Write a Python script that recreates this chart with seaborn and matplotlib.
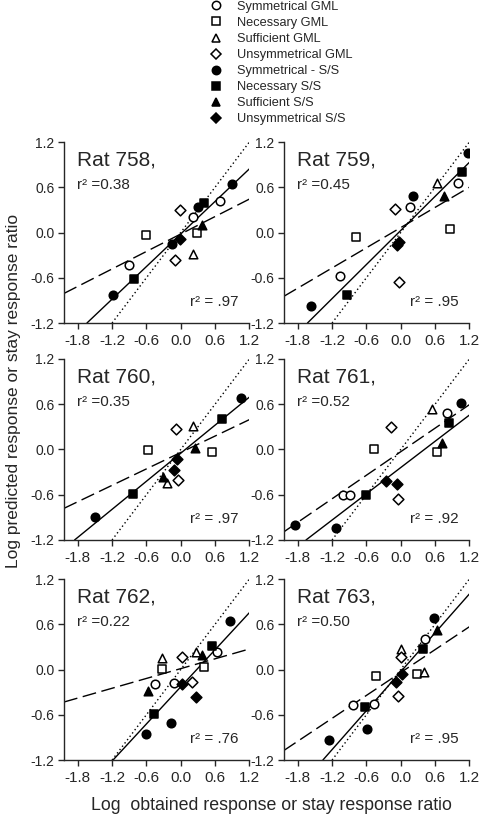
import numpy as np
import pandas as pd
import matplotlib
matplotlib.use("Agg")
import matplotlib.pyplot as plt
from matplotlib.lines import Line2D
import seaborn as sns

# Conditions (legend order)
conditions = ["Symmetrical GML", "Necessary GML", "Sufficient GML", "Unsymmetrical GML",
              "Symmetrical - S/S", "Necessary S/S", "Sufficient S/S", "Unsymmetrical S/S"]
cond_markers = ["o", "s", "^", "D", "o", "s", "^", "D"]
cond_fill = ["white"] * 4 + ["black"] * 4

rats = ["758", "759", "760", "761", "762", "763"]
r2_gml = ["0.38", "0.45", "0.35", "0.52", "0.22", "0.50"]
r2_ss = [".97", ".95", ".97", ".92", ".76", ".95"]

# regression lines: solid = S/S, dashed = GML
ss_slope = [0.72, 0.753, 0.62, 0.58, 0.82, 0.86]
ss_icpt = [-0.02, 0.027, -0.05, -0.24, -0.23, -0.03]
gml_slope = [0.386, 0.446, 0.363, 0.52, 0.217, 0.506]
gml_icpt = [-0.02, 0.065, -0.04, -0.03, 0.012, -0.04]

# points per rat: condition index, obtained (x), predicted (y)
rat758_cond = [0, 0, 0, 1, 1, 2, 3, 3, 4, 4, 4, 4, 5, 5, 6, 7]
rat758_x = [-0.90, 0.22, 0.69, -0.61, 0.28, 0.22, -0.01, -0.10, -1.19, -0.16, 0.31, 0.89, -0.82, 0.41, 0.37, -0.01]
rat758_y = [-0.43, 0.21, 0.42, -0.03, 0.00, -0.29, 0.30, -0.36, -0.83, -0.15, 0.34, 0.64, -0.61, 0.39, 0.10, -0.09]

rat759_cond = [0, 0, 0, 1, 1, 2, 3, 3, 4, 4, 4, 5, 5, 6, 7, 7]
rat759_x = [-1.06, 0.17, 1.00, -0.78, 0.87, 0.63, -0.10, -0.03, -1.56, 0.22, 1.17, -0.94, 1.07, 0.76, -0.07, -0.03]
rat759_y = [-0.57, 0.34, 0.66, -0.06, 0.04, 0.66, 0.31, -0.65, -0.97, 0.48, 1.05, -0.83, 0.80, 0.48, -0.16, -0.12]

rat760_cond = [1, 1, 2, 2, 3, 3, 4, 4, 5, 5, 6, 6, 7, 7]
rat760_x = [-0.58, 0.54, 0.21, -0.24, -0.08, -0.04, 1.05, -1.50, -0.84, 0.72, 0.25, -0.31, -0.07, -0.11]
rat760_y = [-0.01, -0.04, 0.31, -0.44, 0.27, -0.40, 0.68, -0.89, -0.59, 0.40, 0.02, -0.36, -0.13, -0.27]

rat761_cond = [0, 0, 0, 1, 1, 2, 3, 3, 4, 4, 4, 5, 5, 6, 7, 7]
rat761_x = [-1.01, -0.88, 0.81, -0.47, 0.63, 0.54, -0.17, -0.05, 1.06, -1.84, -1.13, -0.60, 0.85, 0.73, -0.25, -0.06]
rat761_y = [-0.61, -0.61, 0.49, 0.00, -0.04, 0.54, 0.30, -0.66, 0.62, -1.00, -1.04, -0.61, 0.35, 0.09, -0.42, -0.46]

rat762_cond = [0, 0, 0, 1, 1, 2, 2, 3, 3, 4, 4, 4, 5, 5, 6, 6, 7, 7]
rat762_x = [-0.45, -0.12, 0.63, -0.33, 0.41, -0.33, 0.27, 0.02, 0.20, 0.87, -0.61, -0.17, 0.55, -0.47, -0.58, 0.37, 0.03, 0.27]
rat762_y = [-0.19, -0.18, 0.23, 0.01, 0.03, 0.15, 0.23, 0.17, -0.17, 0.65, -0.85, -0.71, 0.31, -0.59, -0.28, 0.19, -0.19, -0.36]

rat763_cond = [0, 0, 0, 1, 1, 2, 2, 3, 3, 4, 4, 4, 5, 5, 6, 7, 7]
rat763_x = [-0.83, -0.47, 0.43, -0.44, 0.28, 0.01, 0.41, 0.01, -0.05, 0.59, -1.26, -0.59, 0.39, -0.62, 0.63, -0.08, 0.02]
rat763_y = [-0.47, -0.46, 0.41, -0.08, -0.06, 0.27, -0.03, 0.16, -0.35, 0.68, -0.94, -0.79, 0.27, -0.50, 0.53, -0.16, -0.06]

rat_points = [
    (rat758_cond, rat758_x, rat758_y),
    (rat759_cond, rat759_x, rat759_y),
    (rat760_cond, rat760_x, rat760_y),
    (rat761_cond, rat761_x, rat761_y),
    (rat762_cond, rat762_x, rat762_y),
    (rat763_cond, rat763_x, rat763_y),
]

ticks = [-1.8, -1.2, -0.6, 0.0, 0.6, 1.2]
yticks = [-1.2, -0.6, 0.0, 0.6, 1.2]

sns.set_style("ticks")
plt.rcParams["font.family"] = ["Liberation Sans", "DejaVu Sans"]

fig = plt.figure(figsize=(4.79, 8.19), dpi=100)

lefts = [0.1336, 0.5929]
bottoms = [0.6056, 0.3407, 0.072]
w, h = 0.387, 0.221

for i, rat in enumerate(rats):
    row, col = divmod(i, 2)
    ax = fig.add_axes([lefts[col], bottoms[row], w, h])
    cond, xs, ys = rat_points[i]
    df = pd.DataFrame({"cond": [conditions[c] for c in cond], "x": xs, "y": ys})

    # reference lines
    ax.axline((0, 0), slope=1, color="black", lw=1.0, ls=(0, (1, 2)), zorder=1)
    ax.axline((0, ss_icpt[i]), slope=ss_slope[i], color="black", lw=1.0, zorder=1)
    ax.axline((0, gml_icpt[i]), slope=gml_slope[i], color="black", lw=1.0,
              ls=(0, (10, 4)), zorder=1)

    for k, name in enumerate(conditions):
        sub = df[df["cond"] == name]
        if sub.empty:
            continue
        sns.scatterplot(data=sub, x="x", y="y", marker=cond_markers[k],
                        color=cond_fill[k], edgecolor="black", linewidth=1.1,
                        s=30 if cond_markers[k] == "D" else 38,
                        ax=ax, zorder=3, legend=False)

    ax.set_xlim(-2.04, 1.2)
    ax.set_ylim(-1.2, 1.2)
    ax.set_xticks(ticks)
    ax.set_yticks(yticks)
    ax.set_xticklabels([f"{t:.1f}" for t in ticks])
    ax.set_yticklabels([f"{t:.1f}" for t in yticks])
    ax.tick_params(axis="x", direction="out", length=4, width=1, labelsize=11, pad=4)
    ax.tick_params(axis="y", direction="out", length=4, width=1, labelsize=10, pad=3)
    ax.set_xlabel("")
    ax.set_ylabel("")
    for sp in ["top", "right"]:
        ax.spines[sp].set_visible(False)
    for sp in ["left", "bottom"]:
        ax.spines[sp].set_linewidth(1.0)

    ax.text(0.07, 0.90, f"Rat {rat},", transform=ax.transAxes, fontsize=15,
            va="center", ha="left")
    ax.text(0.07, 0.76, f"r² ={r2_gml[i]}", transform=ax.transAxes, fontsize=11,
            va="center", ha="left")
    ax.text(0.68, 0.115, f"r² = {r2_ss[i]}", transform=ax.transAxes, fontsize=11,
            va="center", ha="left")

fig.text(0.566, 0.006, "Log  obtained response or stay response ratio",
         ha="center", va="bottom", fontsize=12.8)
fig.text(0.029, 0.523, "Log predicted response or stay response ratio",
         ha="center", va="center", rotation=90, fontsize=12.5)

handles = [Line2D([], [], ls="none", marker=cond_markers[k],
                  markerfacecolor=cond_fill[k], markeredgecolor="black",
                  markeredgewidth=1.1, markersize=5.5 if cond_markers[k] == "D" else 6)
           for k in range(len(conditions))]
fig.legend(handles, conditions, loc="upper left", bbox_to_anchor=(0.437, 0.999),
           frameon=False, fontsize=9.2, labelspacing=0.32, handlelength=1.0,
           handletextpad=1.2, borderpad=0, borderaxespad=0)

fig.savefig("out.png", dpi=100)
